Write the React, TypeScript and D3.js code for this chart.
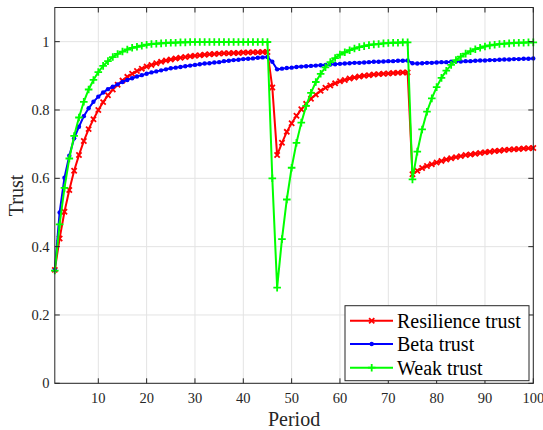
import React from 'react';
import * as d3 from 'd3';

// trust values per period (1..100)
const resilienceTrust = [
  0.332, 0.424, 0.502, 0.566, 0.622, 0.668, 0.709, 0.744, 0.773, 0.800,
  0.823, 0.843, 0.860, 0.874, 0.886, 0.897, 0.906, 0.914, 0.921, 0.927,
  0.932, 0.937, 0.941, 0.945, 0.948, 0.951, 0.953, 0.955, 0.957, 0.959,
  0.960, 0.962, 0.963, 0.964, 0.965, 0.966, 0.966, 0.967, 0.967, 0.968,
  0.968, 0.969, 0.969, 0.970, 0.970, 0.866, 0.668, 0.704, 0.736, 0.761,
  0.783, 0.802, 0.818, 0.833, 0.845, 0.856, 0.865, 0.872, 0.878, 0.884,
  0.888, 0.892, 0.895, 0.898, 0.900, 0.902, 0.904, 0.905, 0.906, 0.907,
  0.908, 0.909, 0.910, 0.910, 0.612, 0.622, 0.630, 0.636, 0.641, 0.646,
  0.651, 0.655, 0.659, 0.662, 0.665, 0.668, 0.670, 0.672, 0.674, 0.676,
  0.678, 0.680, 0.681, 0.683, 0.684, 0.685, 0.686, 0.687, 0.688, 0.689,
];

const betaTrust = [
  0.332, 0.500, 0.602, 0.666, 0.717, 0.751, 0.782, 0.805, 0.824, 0.839,
  0.851, 0.861, 0.868, 0.875, 0.882, 0.888, 0.893, 0.898, 0.902, 0.906,
  0.910, 0.913, 0.916, 0.919, 0.922, 0.924, 0.926, 0.928, 0.930, 0.932,
  0.934, 0.936, 0.937, 0.939, 0.940, 0.943, 0.944, 0.946, 0.947, 0.949,
  0.950, 0.951, 0.953, 0.954, 0.955, 0.941, 0.919, 0.921, 0.923, 0.924,
  0.926, 0.927, 0.928, 0.929, 0.930, 0.931, 0.932, 0.933, 0.934, 0.935,
  0.936, 0.937, 0.938, 0.938, 0.939, 0.940, 0.941, 0.941, 0.942, 0.943,
  0.943, 0.944, 0.944, 0.945, 0.937, 0.936, 0.937, 0.938, 0.938, 0.939,
  0.940, 0.940, 0.941, 0.942, 0.942, 0.943, 0.943, 0.944, 0.945, 0.945,
  0.946, 0.946, 0.947, 0.948, 0.948, 0.949, 0.949, 0.950, 0.950, 0.951,
];

const weakTrust = [
  0.330, 0.465, 0.572, 0.658, 0.724, 0.778, 0.824, 0.860, 0.888, 0.911,
  0.929, 0.943, 0.955, 0.964, 0.971, 0.977, 0.982, 0.985, 0.988, 0.991,
  0.993, 0.994, 0.995, 0.996, 0.997, 0.997, 0.998, 0.998, 0.999, 0.999,
  0.999, 0.999, 0.999, 0.999, 0.999, 0.999, 0.999, 0.999, 0.999, 0.999,
  0.999, 0.999, 0.999, 0.999, 0.999, 0.600, 0.280, 0.422, 0.538, 0.631,
  0.704, 0.763, 0.812, 0.850, 0.882, 0.906, 0.925, 0.940, 0.952, 0.962,
  0.969, 0.975, 0.980, 0.984, 0.987, 0.990, 0.992, 0.993, 0.995, 0.996,
  0.997, 0.997, 0.998, 0.998, 0.597, 0.678, 0.743, 0.795, 0.834, 0.867,
  0.894, 0.915, 0.932, 0.946, 0.956, 0.965, 0.972, 0.978, 0.982, 0.986,
  0.989, 0.991, 0.993, 0.994, 0.995, 0.996, 0.997, 0.997, 0.998, 0.998,
];

const xTicks = [10, 20, 30, 40, 50, 60, 70, 80, 90, 100];
const yTicks = [0, 0.2, 0.4, 0.6, 0.8, 1];

const series = [
  { name: 'Resilience trust', values: resilienceTrust, color: '#ff0000', marker: 'x' },
  { name: 'Beta trust', values: betaTrust, color: '#0000ff', marker: 'dot' },
  { name: 'Weak trust', values: weakTrust, color: '#00ff00', marker: 'plus' },
];

const W = 543;
const H = 430;
const left = 54.8, right = 533.3, top = 7.5, bottom = 383.3;
const axisColor = '#262626';
const serif = { fontFamily: "'Liberation Serif', 'Times New Roman', Times, serif" };

const Marker = ({ type, x, y, color }) => {
  if (type === 'x') {
    const s = 2.6;
    return (
      <path
        d={`M${x - s},${y - s}L${x + s},${y + s}M${x - s},${y + s}L${x + s},${y - s}`}
        stroke={color}
        strokeWidth={1.8}
      />
    );
  }
  if (type === 'plus') {
    const s = 3.8;
    return (
      <path
        d={`M${x - s},${y}L${x + s},${y}M${x},${y - s}L${x},${y + s}`}
        stroke={color}
        strokeWidth={1.8}
      />
    );
  }
  return <circle cx={x} cy={y} r={2.2} fill={color} />;
};

export default function App() {
  const x = d3.scaleLinear().domain([1, 100]).range([left, right]);
  const y = d3.scaleLinear().domain([0, 1.1]).range([bottom, top]);
  const line = d3.line<number>()
    .x((_, i) => x(i + 1))
    .y((d) => y(d));

  const lg = { x0: 345, y0: 305.7, x1: 529, y1: 380.7 };
  const rowY = [320.7, 344, 367.7];

  return (
    <svg
      width={W}
      height={H}
      style={{ position: 'absolute', left: 0, top: 0, background: '#fff' }}
    >
      <rect x={0} y={0} width={W} height={H} fill="#fff" />
      {/* grid */}
      {xTicks.map((t) => (
        <line key={'gx' + t} x1={x(t)} x2={x(t)} y1={top} y2={bottom} stroke="#e3e3e3" strokeWidth={1} />
      ))}
      {yTicks.map((t) => (
        <line key={'gy' + t} x1={left} x2={right} y1={y(t)} y2={y(t)} stroke="#e3e3e3" strokeWidth={1} />
      ))}

      {/* series */}
      {series.map((s) => (
        <g key={s.name}>
          <path d={line(s.values)} fill="none" stroke={s.color} strokeWidth={2} />
          {s.values.map((v, i) => (
            <Marker key={i} type={s.marker} x={x(i + 1)} y={y(v)} color={s.color} />
          ))}
        </g>
      ))}

      {/* box and ticks */}
      <rect x={left} y={top} width={right - left} height={bottom - top} fill="none" stroke={axisColor} strokeWidth={1} />
      {xTicks.map((t) => (
        <g key={'tx' + t}>
          <line x1={x(t)} x2={x(t)} y1={bottom} y2={bottom - 5} stroke={axisColor} />
          <line x1={x(t)} x2={x(t)} y1={top} y2={top + 5} stroke={axisColor} />
          <text x={x(t)} y={403} textAnchor="middle" style={serif} fontSize={14.5} fill={axisColor}>
            {t}
          </text>
        </g>
      ))}
      {yTicks.map((t) => (
        <g key={'ty' + t}>
          <line x1={left} x2={left + 5} y1={y(t)} y2={y(t)} stroke={axisColor} />
          <line x1={right} x2={right - 5} y1={y(t)} y2={y(t)} stroke={axisColor} />
          <text x={49.5} y={y(t) + 5} textAnchor="end" style={serif} fontSize={14.5} fill={axisColor}>
            {d3.format('~g')(t)}
          </text>
        </g>
      ))}

      {/* axis labels */}
      <text x={(left + right) / 2} y={426} textAnchor="middle" style={serif} fontSize={20} fill={axisColor}>
        Period
      </text>
      <text
        transform={`translate(23,${(top + bottom) / 2}) rotate(-90)`}
        textAnchor="middle"
        style={serif}
        fontSize={20}
        fill={axisColor}
      >
        Trust
      </text>

      {/* legend */}
      <rect x={lg.x0} y={lg.y0} width={lg.x1 - lg.x0} height={lg.y1 - lg.y0} fill="#fff" stroke={axisColor} strokeWidth={1} />
      {series.map((s, i) => (
        <g key={'lg' + s.name}>
          <line x1={350} x2={393} y1={rowY[i]} y2={rowY[i]} stroke={s.color} strokeWidth={2} />
          <Marker type={s.marker} x={371.7} y={rowY[i]} color={s.color} />
          <text x={397} y={rowY[i] + 7} style={serif} fontSize={20} fill="#000">
            {s.name}
          </text>
        </g>
      ))}
    </svg>
  );
}
